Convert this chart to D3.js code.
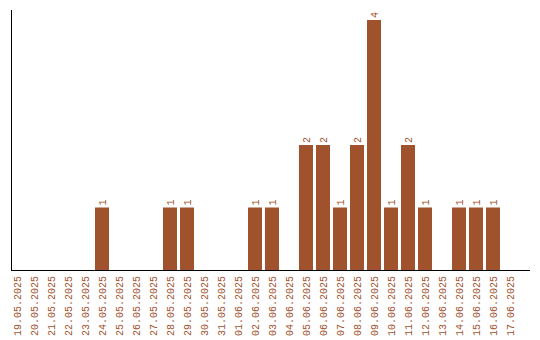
<!DOCTYPE html>
<html lang="en">
<head>
  <meta charset="UTF-8">
  <title>Daily counts</title>
  <script src="https://d3js.org/d3.v7.min.js"></script>
  <style>
    body { margin: 0; background: #fff; }
    text { font-family: "Liberation Mono", "Courier New", monospace; font-size: 10px; fill: #a0522d; }
  </style>
</head>
<body>
  <svg id="chart" width="540" height="340"></svg>
  <script>
    const days = ["19.05.2025", "20.05.2025", "21.05.2025", "22.05.2025", "23.05.2025",
      "24.05.2025", "25.05.2025", "26.05.2025", "27.05.2025", "28.05.2025", "29.05.2025",
      "30.05.2025", "31.05.2025", "01.06.2025", "02.06.2025", "03.06.2025", "04.06.2025",
      "05.06.2025", "06.06.2025", "07.06.2025", "08.06.2025", "09.06.2025", "10.06.2025",
      "11.06.2025", "12.06.2025", "13.06.2025", "14.06.2025", "15.06.2025", "16.06.2025",
      "17.06.2025"];
    const counts = [0, 0, 0, 0, 0, 1, 0, 0, 0, 1, 1, 0, 0, 0, 1, 1, 0, 2, 2, 1, 2, 4, 1, 2, 1, 0, 1, 1, 1, 0];

    const data = days.map((d, i) => ({ day: d, count: counts[i] }));
    const svg = d3.select("#chart");

    const xScale = d3.scaleBand()
      .domain(days)
      .range([10, 517])
      .paddingInner(3 / 17);

    const yScale = d3.scaleLinear()
      .domain([0, 4])
      .range([270, 20]);

    // bars
    svg.selectAll("rect.bar").data(data.filter(d => d.count > 0))
      .join("rect").attr("class", "bar")
      .attr("fill", "#a0522d")
      .attr("x", d => xScale(d.day))
      .attr("y", d => yScale(d.count))
      .attr("width", xScale.bandwidth())
      .attr("height", d => yScale(0) - yScale(d.count));

    // value labels above bars
    svg.selectAll("text.val").data(data.filter(d => d.count > 0))
      .join("text").attr("class", "val")
      .attr("transform", d => `translate(${xScale(d.day) + xScale.bandwidth() / 2},${yScale(d.count) - 2}) rotate(-90)`)
      .attr("dy", "0.35em")
      .attr("text-anchor", "start")
      .text(d => d.count);

    // date labels
    svg.selectAll("text.day").data(data)
      .join("text").attr("class", "day")
      .attr("transform", d => `translate(${xScale(d.day) + xScale.bandwidth() / 2},276) rotate(-90)`)
      .attr("dy", "0.35em")
      .attr("text-anchor", "end")
      .text(d => d.day);

    // axes lines
    svg.append("line")
      .attr("x1", 11.5).attr("x2", 11.5)
      .attr("y1", 10).attr("y2", 270)
      .attr("stroke", "#000");
    svg.append("line")
      .attr("x1", 11).attr("x2", 530)
      .attr("y1", 270.5).attr("y2", 270.5)
      .attr("stroke", "#000");
  </script>
</body>
</html>
